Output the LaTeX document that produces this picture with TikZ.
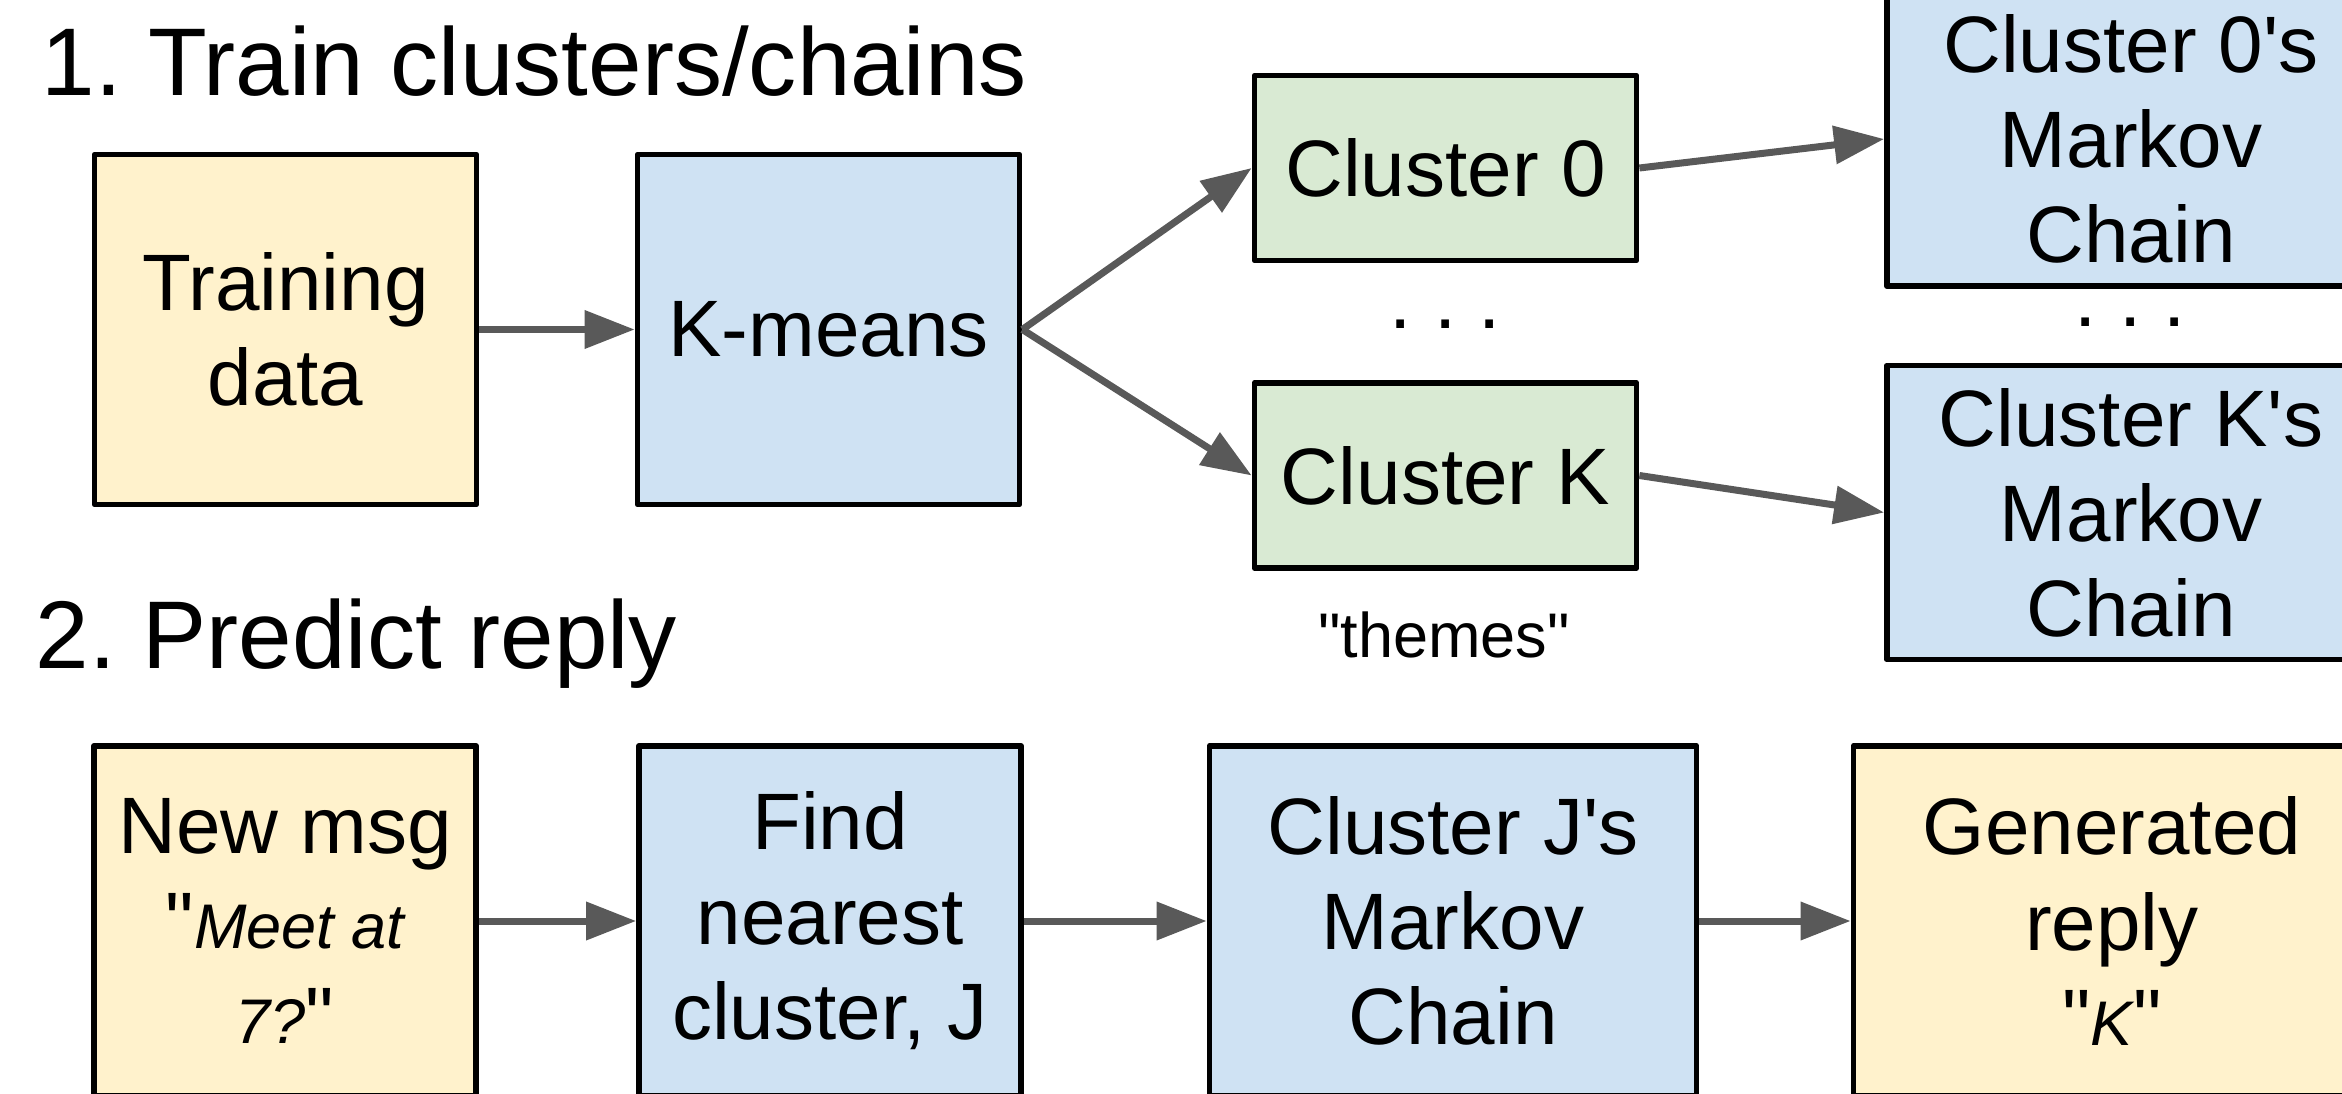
\documentclass[tikz,border=0pt]{standalone}
\usepackage{fontspec}
\setmainfont{Liberation Sans}[Ligatures=TeXOff]
\usetikzlibrary{arrows.meta}
\definecolor{boxyellow}{HTML}{FFF2CC}
\definecolor{boxblue}{HTML}{CFE2F3}
\definecolor{boxgreen}{HTML}{D9EAD3}
\definecolor{arrowgray}{HTML}{595959}
\frenchspacing
\newcommand\blockfont{\fontsize{22.76pt}{27.03pt}\selectfont}
\newcommand\headfont{\fontsize{27.35pt}{32pt}\selectfont}
\newcommand\quoteit[1]{{\fontsize{17.93pt}{27.03pt}\selectfont\itshape #1}}
\begin{document}
\begin{tikzpicture}[x=0.01cm, y=-0.01cm, line join=round, >={Triangle[length=0.5cm,width=0.37cm]},
	box/.style={draw=black, line width=0.055cm, align=center, inner sep=0pt, minimum width=3.82cm, minimum height=3.5cm, font=\blockfont},
	yel/.style={box, fill=boxyellow},
	blu/.style={box, fill=boxblue},
	grn/.style={box, fill=boxgreen, minimum height=1.85cm},
	chain/.style={blu, minimum width=4.88cm, minimum height=2.94cm},
	link/.style={->, draw=arrowgray, line width=0.07cm}]
	\useasboundingbox (0,0) rectangle (2342,1094);
	\clip (0,0) rectangle (2342,1094);
	% headings
	\path
	(41,96) node[anchor=base west, inner sep=0pt, font=\headfont] (h1) {1. Train clusters/chains}
	(35,668) node[anchor=base west, inner sep=0pt, font=\headfont] (h2) {2. Predict reply};
	% training
	\path
	(285.5,329.5) node[yel] (train) {Training\\data}
	(828.5,329.5) node[blu] (kmeans) {K-means}
	(1445.5,168) node[grn] (c0) {Cluster 0}
	(1445.5,475.5) node[grn] (cK) {Cluster K}
	(2131,139) node[chain] (m0) {Cluster 0's\\Markov\\Chain}
	(2131,512.5) node[chain] (mK) {Cluster K's\\Markov\\Chain};
	\path
	(1445.5,328) node[anchor=base, inner sep=0pt, font=\blockfont] (dots0) {. . .}
	(2130.5,327) node[anchor=base, inner sep=0pt, font=\blockfont] (dots1) {. . .}
	(1444,657) node[anchor=base, inner sep=0pt, font=\fontsize{17.93pt}{21pt}\selectfont] (themes) {"themes"};
	% prediction
	\path
	(285,921) node[yel] (msg) {New msg\\"\quoteit{Meet at}\\\quoteit{7?}"}
	(830,921) node[blu] (near) {Find\\nearest\\cluster, J}
	(1453,921) node[blu, minimum width=4.87cm] (mJ) {Cluster J's\\Markov\\Chain}
	(2112,921) node[yel, minimum width=5.17cm] (reply) {Generated\\reply\\"\quoteit{K}"};
	\foreach \a/\b in {train/kmeans, kmeans/c0, kmeans/cK, c0/m0, cK/mK, msg/near, near/mJ, mJ/reply}{\draw[link](\a.east)--(\b.west);}
\end{tikzpicture}
\end{document}
